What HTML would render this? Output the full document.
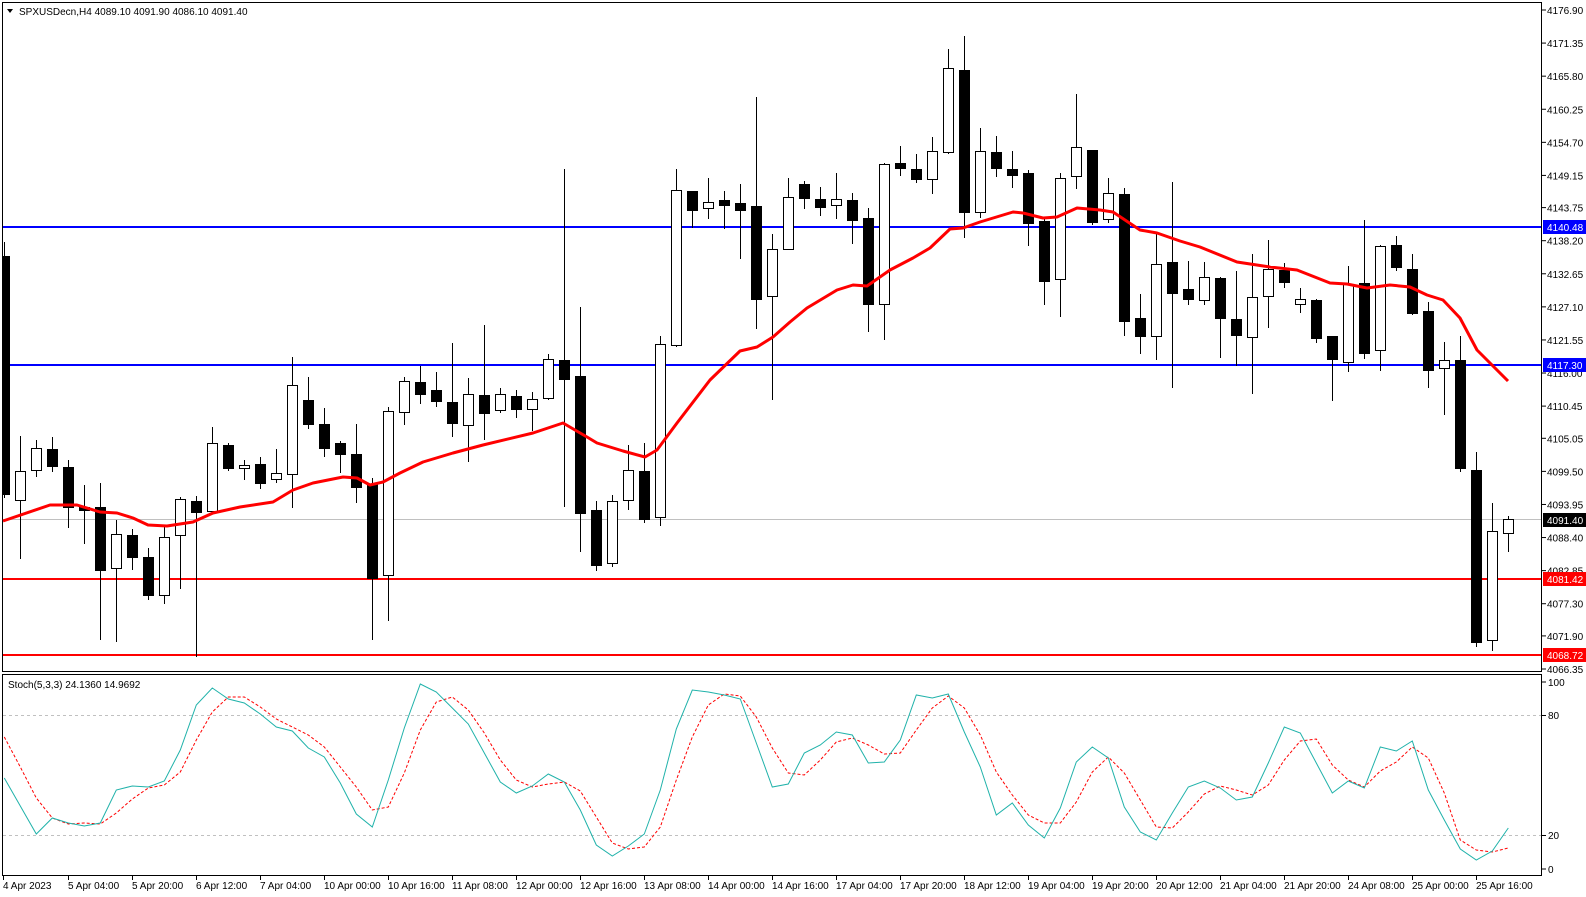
<!DOCTYPE html>
<html><head><meta charset="utf-8">
<style>
html,body{margin:0;padding:0;background:#fff;}
svg{display:block;}
text{font-family:"Liberation Sans",sans-serif;font-size:10px;fill:#000;}
</style></head>
<body>
<svg id="c" width="1586" height="897" xmlns="http://www.w3.org/2000/svg">
<rect x="0" y="0" width="1586" height="897" fill="#fff"/>
<!-- panel borders -->
<rect x="2.5" y="2.5" width="1539" height="669" fill="none" stroke="#000" stroke-width="1"/>
<rect x="2.5" y="674.5" width="1539" height="201" fill="none" stroke="#000" stroke-width="1"/>
<!-- header -->
<polygon points="7,9 13,9 10,13" fill="#000"/>
<text x="19" y="15">SPXUSDecn,H4  4089.10 4091.90 4086.10 4091.40</text>
<!-- horizontal lines -->
<line x1="3" y1="519.5" x2="1541" y2="519.5" stroke="#c0c0c0" stroke-width="1"/>
<line x1="3" y1="227" x2="1541" y2="227" stroke="#0000ff" stroke-width="2"/>
<line x1="3" y1="365" x2="1541" y2="365" stroke="#0000ff" stroke-width="2"/>
<line x1="3" y1="579" x2="1541" y2="579" stroke="#ff0000" stroke-width="2"/>
<line x1="3" y1="655" x2="1541" y2="655" stroke="#ff0000" stroke-width="2"/>
<g id="candles"></g>
<!-- MA -->
<polyline fill="none" stroke="#ff0000" stroke-width="3" stroke-linejoin="round" points="3,521 50,505 77,505 100,512 117,513 133,518 148,525 167,526 193,522 213,513 240,507 273,502 293,490 313,483 343,477 357,478 370,485 383,482 400,473 423,462 453,453 483,445 533,433 563,423 587,437 597,443 623,451 645,457 657,450 677,423 710,380 740,351 757,347 773,337 790,322 807,308 837,290 853,285 867,286 890,270 913,258 930,248 950,229 963,228 980,222 1013,212 1023,213 1043,218 1057,217 1077,208 1100,210 1113,212 1140,230 1157,233 1180,241 1200,247 1237,262 1270,267 1297,270 1330,283 1347,284 1367,288 1390,285 1410,287 1427,295 1443,300 1460,318 1477,350 1508,381"/>
<!-- price axis -->
<g id="paxis"></g>
<!-- tags -->
<rect x="1543" y="220" width="43" height="14" fill="#0000ff"/><text x="1547" y="231" style="fill:#fff">4140.48</text>
<rect x="1543" y="358" width="43" height="14" fill="#0000ff"/><text x="1547" y="369" style="fill:#fff">4117.30</text>
<rect x="1543" y="513" width="43" height="14" fill="#000"/><text x="1547" y="524" style="fill:#fff">4091.40</text>
<rect x="1543" y="572" width="43" height="14" fill="#ff0000"/><text x="1547" y="583" style="fill:#fff">4081.42</text>
<rect x="1543" y="648" width="43" height="14" fill="#ff0000"/><text x="1547" y="659" style="fill:#fff">4068.72</text>
<!-- stoch -->
<text x="8" y="688">Stoch(5,3,3) 24.1360 14.9692</text>
<line x1="3" y1="715.5" x2="1541" y2="715.5" stroke="#c0c0c0" stroke-dasharray="3,3"/>
<line x1="3" y1="835.5" x2="1541" y2="835.5" stroke="#c0c0c0" stroke-dasharray="3,3"/>
<line x1="1542" y1="682" x2="1546" y2="682" stroke="#000"/><text x="1548" y="686">100</text>
<line x1="1542" y1="715.5" x2="1546" y2="715.5" stroke="#000"/><text x="1548" y="719">80</text>
<line x1="1542" y1="835.5" x2="1546" y2="835.5" stroke="#000"/><text x="1548" y="839">20</text>
<line x1="1542" y1="869" x2="1546" y2="869" stroke="#000"/><text x="1548" y="873">0</text>
<polyline id="sig" fill="none" stroke="#ff0000" stroke-width="1" stroke-dasharray="3,2"/>
<polyline id="main" fill="none" stroke="#20b2aa" stroke-width="1"/>
<!-- dates -->
<g id="dates">
<text x="3" y="889">4 Apr 2023</text>
<text x="68" y="889">5 Apr 04:00</text>
<text x="132" y="889">5 Apr 20:00</text>
<text x="196" y="889">6 Apr 12:00</text>
<text x="260" y="889">7 Apr 04:00</text>
<text x="324" y="889">10 Apr 00:00</text>
<text x="388" y="889">10 Apr 16:00</text>
<text x="452" y="889">11 Apr 08:00</text>
<text x="516" y="889">12 Apr 00:00</text>
<text x="580" y="889">12 Apr 16:00</text>
<text x="644" y="889">13 Apr 08:00</text>
<text x="708" y="889">14 Apr 00:00</text>
<text x="772" y="889">14 Apr 16:00</text>
<text x="836" y="889">17 Apr 04:00</text>
<text x="900" y="889">17 Apr 20:00</text>
<text x="964" y="889">18 Apr 12:00</text>
<text x="1028" y="889">19 Apr 04:00</text>
<text x="1092" y="889">19 Apr 20:00</text>
<text x="1156" y="889">20 Apr 12:00</text>
<text x="1220" y="889">21 Apr 04:00</text>
<text x="1284" y="889">21 Apr 20:00</text>
<text x="1348" y="889">24 Apr 08:00</text>
<text x="1412" y="889">25 Apr 00:00</text>
<text x="1476" y="889">25 Apr 16:00</text>
</g>
</svg>
<script>
var NS="http://www.w3.org/2000/svg";
function el(t,a,p){var e=document.createElementNS(NS,t);for(var k in a)e.setAttribute(k,a[k]);p.appendChild(e);return e;}
var C=[[242,256,494,498,0],[436,471,500,559,1],[440,448,470,477,1],[437,449,466,472,0],[460,467,507,528,0],[485,507,510,544,0],[483,507,570,640,0],[520,534,568,642,1],[529,535,557,570,0],[548,557,595,600,0],[525,537,595,604,1],[497,499,535,589,1],[496,501,512,657,0],[427,443,511,512,1],[443,445,468,471,0],[460,465,468,480,1],[457,464,483,489,0],[449,473,479,483,1],[357,385,474,508,1],[377,400,424,429,0],[408,424,448,457,0],[441,443,454,473,0],[424,454,487,503,0],[478,484,578,640,0],[407,411,575,621,1],[377,381,412,425,1],[366,382,394,404,0],[372,390,401,407,0],[343,402,423,437,0],[378,394,425,462,1],[325,395,413,440,0],[388,394,410,413,1],[390,396,409,418,0],[392,399,409,431,1],[354,359,398,400,1],[169,360,379,507,0],[307,376,513,552,0],[501,510,565,571,0],[495,501,563,567,1],[445,470,500,510,1],[443,471,519,523,0],[336,344,517,526,1],[169,190,345,347,1],[191,191,210,228,0],[178,202,208,219,1],[191,200,205,229,0],[184,203,210,259,0],[97,206,299,329,0],[234,249,296,400,1],[178,197,249,249,1],[181,184,198,209,0],[187,199,207,216,0],[173,199,205,219,1],[193,200,220,244,0],[208,218,304,332,0],[163,164,304,340,1],[146,163,168,176,0],[154,169,179,183,0],[137,151,179,194,1],[49,68,152,154,1],[36,70,212,238,0],[128,151,212,218,1],[136,152,168,177,0],[151,169,175,188,0],[170,173,223,246,0],[217,221,281,305,0],[173,178,279,317,1],[94,147,176,189,1],[150,150,222,225,0],[178,193,219,223,1],[188,194,321,336,0],[294,318,336,354,0],[233,264,336,360,1],[182,262,293,388,0],[261,289,299,305,0],[262,277,300,305,1],[277,278,318,358,0],[271,319,335,366,0],[254,297,337,394,1],[240,269,296,328,1],[263,270,282,288,0],[288,299,304,313,1],[299,300,338,343,0],[336,336,359,401,0],[266,284,362,372,1],[220,283,353,359,0],[245,246,350,371,1],[236,245,267,271,0],[254,269,313,315,0],[302,311,370,388,0],[342,360,368,415,1],[336,360,468,472,0],[452,470,642,647,0],[503,531,640,651,1],[516,519,533,552,1]];
var g=document.getElementById("candles");
C.forEach(function(c,i){
 var x=Math.round(4.3+16*i)+0.5;
 el("line",{x1:x,y1:c[0],x2:x,y2:c[3],stroke:"#000","stroke-width":1},g);
 var h=Math.max(c[2]-c[1],1);
 var x0=x-5; if(i==0)x0=3.5;
 if(c[4])el("rect",{x:x0,y:c[1]+0.5,width:x+5-x0,height:h,fill:"#fff",stroke:"#000","stroke-width":1},g);
 else el("rect",{x:x0-0.5,y:c[1],width:x+5-x0+1,height:h+1,fill:"#000"},g);
});
var pa=document.getElementById("paxis");
["4176.90","4171.35","4165.80","4160.25","4154.70","4149.15","4143.75","4138.20","4132.65","4127.10","4121.55","4116.00","4110.45","4105.05","4099.50","4093.95","4088.40","4082.85","4077.30","4071.90","4066.35"].forEach(function(s){
 var y=10+(4176.9-parseFloat(s))*5.961;
 el("line",{x1:1542,y1:y,x2:1546,y2:y,stroke:"#000"},pa);
 var t=el("text",{x:1547,y:y+4},pa);t.textContent=s;
});
var dg=document.getElementById("dates");
for(var k=0;k<24;k++){var x=k==0?3.5:68.5+64*(k-1);el("line",{x1:x,y1:876,x2:x,y2:880,stroke:"#000"},dg);}
var M=[778,806,834,818,823,826,823,790,786,787,781,750,705,688,699,703,714,727,731,748,757,783,814,827,780,728,684,692,708,724,753,782,793,786,774,782,810,845,856,846,834,790,729,690,692,695,699,743,787,784,753,745,732,735,763,762,740,695,698,694,732,767,815,803,825,838,808,762,747,758,807,832,840,813,787,781,788,800,797,763,727,733,763,793,781,788,747,751,741,790,820,849,860,851,828];
var S=[737,767,798,818,824,823,824,813,799,788,785,772,740,712,697,697,707,719,727,735,747,767,787,810,807,773,730,702,697,710,733,760,780,787,784,782,791,817,843,849,847,827,780,737,705,694,696,717,748,773,775,760,742,738,745,754,753,730,708,696,708,735,772,795,815,823,823,802,772,757,773,800,827,828,812,794,786,790,795,785,760,741,739,765,780,787,771,762,747,758,793,840,850,852,848];
function pts(a){return a.map(function(v,i){return (4.3+16*i).toFixed(1)+","+v;}).join(" ");}
document.getElementById("main").setAttribute("points",pts(M));
document.getElementById("sig").setAttribute("points",pts(S));
</script>
</body></html>
